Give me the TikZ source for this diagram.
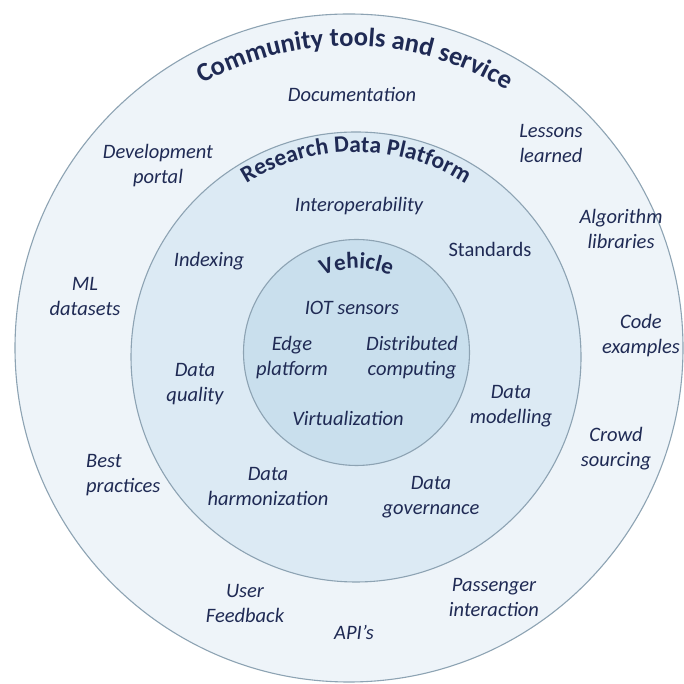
\documentclass[tikz,border=0pt]{standalone}
\usepackage{fontspec}
\setmainfont{Carlito}
\usetikzlibrary{decorations.text}
\definecolor{navy}{HTML}{1F2A54}
\definecolor{ringline}{HTML}{8DA3B3}
\definecolor{outerfill}{HTML}{EEF4F9}
\definecolor{midfill}{HTML}{DCEAF4}
\definecolor{innerfill}{HTML}{C9DFED}
\tikzset{
  ring/.style={draw=ringline, line width=1.1pt},
  lbl/.style={font=\itshape\fontsize{20.5}{25}\selectfont, text=navy, align=center, inner sep=0pt},
  lblup/.style={font=\fontsize{20.5}{25}\selectfont, text=navy, align=center, inner sep=0pt},
}
\begin{document}
\begin{tikzpicture}[x=1pt,y=1pt]
\useasboundingbox (0,0) rectangle (684,684);
\fill[white] (0,0) rectangle (684,684);
\coordinate (O1) at (349,336);
\coordinate (O2) at (356,327);
\coordinate (O3) at (356.5,331.5);
\draw[ring, fill=outerfill] (O1) circle[radius=334];
\draw[ring, fill=midfill] (O2) circle[radius=225];
\draw[ring, fill=innerfill] (O3) circle[radius=113];
% curved titles
\path[decorate, decoration={text along path, text align=center, text color=navy,
  text={|\bfseries\fontsize{26.5}{26.5}\selectfont|Community tools and service}}]
  (O1) ++(139:302) arc[start angle=139, end angle=38.5, radius=302];
\path[decorate, decoration={text along path, text align=center, text color=navy,
  text={|\bfseries\fontsize{23.5}{23.5}\selectfont|Research Data Platform}}]
  (O2) ++(140:205) arc[start angle=140, end angle=40, radius=205];
\path[decorate, decoration={text along path, text align=center, text color=navy,
  text={|\bfseries\fontsize{23}{23}\selectfont|Vehicle}}]
  (O3) ++(140:84) arc[start angle=140, end angle=40, radius=84];
% outer ring
\node[lbl] (doc) at (352,589) {Documentation};
\node[lbl] (les) at (551,540.5) {Lessons\\learned};
\node[lbl] (dev) at (158,518.5) {Development\\portal};
\node[lbl] (alg) at (621,455.5) {Algorithm\\libraries};
\node[lbl] (ml) at (85,387) {ML\\datasets};
\node[lbl] (code) at (641,348.5) {Code\\examples};
\node[lbl] (crowd) at (616,235.5) {Crowd\\sourcing};
\node[lbl, align=left, anchor=west] (best) at (86,208.5) {Best\\practices};
\node[lbl] (user) at (245,81) {User\\Feedback};
\node[lbl] (api) at (354,52) {API’s};
\node[lbl] (pass) at (494,86.5) {Passenger\\interaction};
% middle ring
\node[lbl] (inter) at (359,478) {Interoperability};
\node[lblup] (std) at (490,435) {Standards};
\node[lbl] (idx) at (209,423) {Indexing};
\node[lbl] (dq) at (195,299.5) {Data\\quality};
\node[lbl] (dm) at (511,277.5) {Data\\modelling};
\node[lbl] (dh) at (268,197.5) {Data\\harmonization};
\node[lbl] (dg) at (431,186.5) {Data\\governance};
% inner
\node[lbl] (iot) at (352,376) {IOT sensors};
\node[lbl] (edge) at (292,326.5) {Edge\\platform};
\node[lbl] (dist) at (412,326.5) {Distributed\\computing};
\node[lbl] (virt) at (348,266) {Virtualization};
\end{tikzpicture}
\end{document}
